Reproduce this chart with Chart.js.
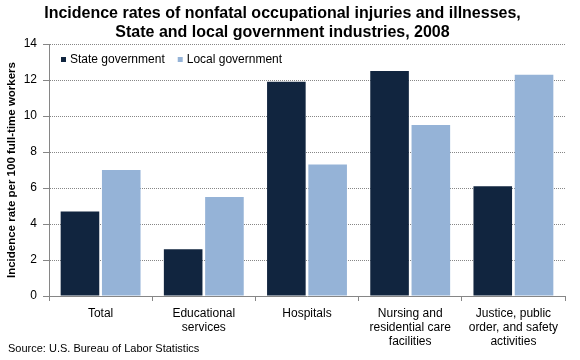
<!DOCTYPE html>
<html>
<head>
<meta charset="utf-8">
<script src="https://cdn.jsdelivr.net/npm/chart.js@4"></script>
<style>
html,body{margin:0;padding:0;background:#fff;}
#wrap{width:580px;height:360px;position:relative;}
</style>
</head>
<body>
<div id="wrap"><canvas id="c" width="580" height="360"></canvas></div>
<script>
const categories = [
  "Total",
  ["Educational", "services"],
  "Hospitals",
  ["Nursing and", "residential care", "facilities"],
  ["Justice, public", "order, and safety", "activities"]
];
const stateGov = [4.7, 2.6, 11.9, 12.5, 6.1];
const localGov = [7.0, 5.5, 7.3, 9.5, 12.3];
const seriesNames = ["State government", "Local government"];
const yTicks = [0, 2, 4, 6, 8, 10, 12, 14];
const titleLines = ["Incidence rates of nonfatal occupational injuries and illnesses,", "State and local government industries, 2008"];
const yTitle = "Incidence rate per 100 full-time workers";
const sourceText = "Source: U.S. Bureau of Labor Statistics";

const FONT = "'Liberation Sans', Arial, sans-serif";
const GRAY = '#868686';

const innerLegend = {
  id: 'innerLegend',
  afterDatasetsDraw(chart) {
    const ctx = chart.ctx;
    const a = chart.chartArea;
    ctx.save();
    ctx.font = "12px " + FONT;
    ctx.textBaseline = 'middle';
    ctx.fillStyle = '#000';
    let x = a.left + 12;
    const y = 60;
    chart.data.datasets.forEach(ds => {
      ctx.fillStyle = ds.backgroundColor;
      ctx.fillRect(x, y - 3, 5, 5);
      ctx.fillStyle = '#000';
      ctx.fillText(ds.label, x + 9, y);
      x += 9 + ctx.measureText(ds.label).width + 13;
    });
    ctx.restore();
  }
};

const sourceNote = {
  id: 'sourceNote',
  afterDraw(chart) {
    const ctx = chart.ctx;
    ctx.save();
    ctx.font = "11px " + FONT;
    ctx.fillStyle = '#000';
    ctx.textBaseline = 'middle';
    ctx.fillText(sourceText, 8, 349);
    ctx.restore();
  }
};

new Chart(document.getElementById('c'), {
  type: 'bar',
  data: {
    labels: categories,
    datasets: [
      { label: seriesNames[0], data: stateGov, backgroundColor: '#11253f', categoryPercentage: 0.8, barPercentage: 0.935 },
      { label: seriesNames[1], data: localGov, backgroundColor: '#95b3d7', categoryPercentage: 0.8, barPercentage: 0.935 }
    ]
  },
  plugins: [innerLegend, sourceNote],
  options: {
    responsive: false,
    animation: false,
    devicePixelRatio: 1,
    layout: { padding: { left: 0, right: 15, top: 0, bottom: 0 } },
    plugins: {
      legend: { display: false },
      tooltip: { enabled: false },
      title: {
        display: true,
        text: titleLines,
        color: '#000',
        font: { family: FONT, size: 16, weight: 'bold', lineHeight: 1.17 },
        padding: { top: 4.5, bottom: 2.1 }
      }
    },
    scales: {
      x: {
        offset: true,
        grid: { offset: true, drawOnChartArea: false, drawTicks: true, tickLength: 5, color: GRAY },
        border: { color: GRAY },
        ticks: { color: '#000', font: { family: FONT, size: 12, lineHeight: 1.17 }, padding: 6, maxRotation: 0, autoSkip: false },
        afterFit: s => { s.height = 64; }
      },
      y: {
        min: 0, max: 14,
        afterBuildTicks: s => { s.ticks = yTicks.map(v => ({ value: v })); },
        grid: { color: GRAY, tickLength: 6, drawTicks: true, tickBorderDash: [] },
        border: { color: GRAY, dash: [1, 1] },
        ticks: { color: '#000', font: { family: FONT, size: 12 }, padding: 6 },
        title: {
          display: true,
          text: yTitle,
          color: '#000',
          font: { family: FONT, size: 11.5, weight: 'bold' },
          padding: { top: 5, bottom: 0 }
        },
        afterFit: s => { s.width = 49; }
      }
    }
  }
});
</script>
</body>
</html>
